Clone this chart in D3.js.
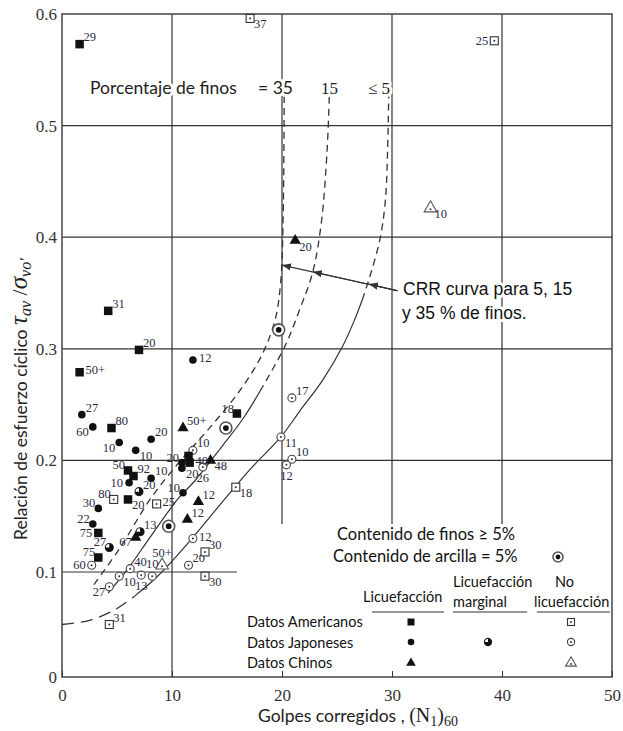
<!DOCTYPE html>
<html><head><meta charset="utf-8">
<script src="https://cdn.jsdelivr.net/npm/d3@7"></script>
<style>body{margin:0;background:#fff}svg{display:block}</style>
</head><body><svg id="c" width="623" height="731"></svg>
<script>
// ---------- DATA ----------
const xTicks = [0, 10, 20, 30, 40, 50];
const yTicks = [0, 0.1, 0.2, 0.3, 0.4, 0.5, 0.6];
const yTickLabels = ["0", "0.1", "0.2", "0.3", "0.4", "0.5", "0.6"];

// [N1_60, CSR, label, label placement]
const americanLiq = [
  [1.6,0.573,"29","ne"],[4.2,0.334,"31","ne"],[7.0,0.299,"20","ne"],[1.6,0.279,"50+","e"],
  [4.5,0.229,"80","ne"],[6.0,0.191,"50","nw"],[6.5,0.186,"92","ne"],[6.0,0.165,"20","se"],
  [3.3,0.135,"75","w"],[3.3,0.113,"75","nw"],[11.5,0.204,"",""],[11.6,0.198,"40","e"],
  [15.9,0.242,"18","nw"]
];
const americanNonLiq = [
  [17.1,0.596,"37","se"],[39.3,0.576,"25","w"],[4.7,0.165,"80","nw"],[8.6,0.161,"25","e"],
  [15.8,0.176,"18","se"],[13.0,0.118,"30","ne"],[13.0,0.096,"30","se"],[4.3,0.050,"31","ne"]
];
const japaneseLiq = [
  [1.8,0.241,"27","ne"],[2.8,0.230,"60","sw"],[5.2,0.216,"10","sw"],[6.7,0.209,"10","se"],
  [8.1,0.219,"20","ne"],[11.9,0.290,"12","e"],[8.1,0.184,"10","ne"],[6.1,0.180,"10","w"],
  [3.3,0.157,"30","nw"],[2.8,0.143,"22","nw"],[10.9,0.198,"20","nw"],[10.9,0.193,"20","se"],
  [11.0,0.171,"10","nw"]
];
const japaneseMarginal = [
  [7.0,0.172,"20","ne"],[4.3,0.122,"27","nw"],[7.1,0.136,"13","ne"]
];
const japaneseNonLiq = [
  [11.9,0.209,"10","ne"],[12.8,0.194,"26","s"],[20.9,0.256,"17","ne"],[19.9,0.221,"11","se"],
  [20.9,0.201,"10","ne"],[20.4,0.196,"12","s"],[11.9,0.130,"12","e"],[11.5,0.106,"20","ne"],
  [2.7,0.106,"60","w"],[6.2,0.103,"40","ne"],[5.2,0.096,"10","se"],[7.2,0.097,"13","s"],
  [8.2,0.096,"10","n"],[4.3,0.086,"27","sw"]
];
const chineseLiq = [
  [11.0,0.229,"50+","ne"],[13.5,0.200,"48","se"],[12.4,0.163,"12","ne"],[11.4,0.147,"12","ne"],
  [6.7,0.131,"67","sw"],[21.2,0.397,"20","se"]
];
const chineseNonLiq = [
  [33.5,0.426,"10","se"],[9.1,0.106,"50+","n"]
];
const clayPoints = [[14.9,0.229],[9.7,0.141],[19.7,0.317]];

// CRR curves [N1_60, CSR]
const curve35 = [[2.9,0.088],[5.3,0.122],[8.0,0.165],[10.7,0.199],[13.5,0.230],[16.2,0.263],
  [18.2,0.295],[19.4,0.327],[19.9,0.362],[20.1,0.416],[20.2,0.526]];
const curve15 = [[4.2,0.080],[6.0,0.103],[8.0,0.131],[10.5,0.165],[12.1,0.182],[14.5,0.212],
  [16.5,0.238],[18.0,0.262],[20.3,0.303],[21.6,0.335],[22.8,0.369],[23.6,0.415],[24.1,0.478],[24.3,0.526]];
const curve5 = [[0,0.050],[2.5,0.054],[4.8,0.064],[6.6,0.077],[8.5,0.094],[10.4,0.114],[12.5,0.138],
  [14.6,0.163],[17.1,0.192],[19.9,0.221],[21.6,0.244],[23.7,0.272],[25.5,0.302],[26.6,0.326],
  [27.3,0.344],[27.9,0.362],[28.9,0.398],[29.4,0.433],[29.6,0.478],[29.7,0.526]];
const arrowTargets = [[20.0,0.375],[22.8,0.369],[27.9,0.358]];
const arrowOrigin = [30.5,0.352];

// ---------- CHART ----------
const svg = d3.select("#c");
const x = d3.scaleLinear().domain([0, 50]).range([62, 612]);
const y = d3.scaleLinear().domain([0, 0.1, 0.6]).range([677, 572, 14]);
const sans = "Lato, 'Open Sans', sans-serif";
const serif = "'Liberation Serif', 'DejaVu Serif', serif";

// grid
const grid = svg.append("g").attr("stroke", "#333").attr("stroke-width", 1.2);
[0.2, 0.3, 0.4, 0.5].forEach(v => grid.append("line").attr("x1", x(0)).attr("x2", x(50)).attr("y1", y(v)).attr("y2", y(v)));
grid.append("line").attr("x1", x(0)).attr("x2", x(15.9)).attr("y1", y(0.1)).attr("y2", y(0.1));
grid.append("line").attr("x1", x(10)).attr("x2", x(10)).attr("y1", y(0.6)).attr("y2", y(0));
[20, 30, 40].forEach(v => grid.append("line").attr("x1", x(v)).attr("x2", x(v)).attr("y1", y(0.6)).attr("y2", y(0.143)));
// frame
svg.append("rect").attr("x", x(0)).attr("y", y(0.6)).attr("width", x(50) - x(0)).attr("height", y(0) - y(0.6))
  .attr("fill", "none").attr("stroke", "#444").attr("stroke-width", 1.5);

// axes
const ax = svg.append("g").attr("transform", `translate(0,${y(0)})`)
  .call(d3.axisBottom(x).tickValues(xTicks).tickSize(-6).tickPadding(12).tickFormat(d3.format("d")));
ax.select(".domain").remove();
ax.selectAll("line").attr("stroke", "#333");
ax.selectAll("text").attr("font-family", serif).attr("font-size", 17).attr("fill", "#333");
const ay = svg.append("g").attr("transform", `translate(${x(0)},0)`)
  .call(d3.axisLeft(y).tickValues(yTicks).tickSize(0).tickPadding(5).tickFormat((d, i) => yTickLabels[i]));
ay.select(".domain").remove();
ay.selectAll("text").attr("font-family", serif).attr("font-size", 17).attr("fill", "#333");

// curves
const line = d3.line().x(d => x(d[0])).y(d => y(d[1])).curve(d3.curveCatmullRom.alpha(0.5));
function part(arr, f) { return arr.filter(f); }
const cg = svg.append("g").attr("fill", "none").attr("stroke", "#333").attr("stroke-width", 1.3);
cg.append("path").attr("d", line(curve35)).attr("stroke-dasharray", "7,5");
cg.append("path").attr("d", line(part(curve15, d => d[1] <= 0.263))).attr("stroke-width", 1.2);
cg.append("path").attr("d", line(part(curve15, d => d[1] >= 0.262))).attr("stroke-dasharray", "7,5");
cg.append("path").attr("d", line(part(curve5, d => d[0] <= 6.6))).attr("stroke-dasharray", "12,7");
cg.append("path").attr("d", line(part(curve5, d => d[0] >= 6.6 && d[1] <= 0.345))).attr("stroke-width", 1.2);
cg.append("path").attr("d", line(part(curve5, d => d[1] >= 0.344))).attr("stroke-dasharray", "7,5");

// arrows
svg.append("defs").append("marker").attr("id", "ah").attr("viewBox", "0 0 10 10").attr("refX", 10).attr("refY", 5)
  .attr("markerWidth", 9).attr("markerHeight", 9).attr("orient", "auto-start-reverse").attr("markerUnits", "userSpaceOnUse")
  .append("path").attr("d", "M0,1 L10,5 L0,9 Z").attr("fill", "#333");
arrowTargets.forEach(t => svg.append("line").attr("x1", x(arrowOrigin[0])).attr("y1", y(arrowOrigin[1]))
  .attr("x2", x(t[0])).attr("y2", y(t[1])).attr("stroke", "#333").attr("stroke-width", 1.1).attr("marker-end", "url(#ah)"));

// annotation texts (with white halo)
function halo(t) { return t.attr("stroke", "#fff").attr("stroke-width", 6).attr("paint-order", "stroke").attr("stroke-linejoin", "round"); }
halo(svg.append("text").attr("x", 90).attr("y", 94).attr("font-family", sans).attr("font-size", 17.5).attr("fill", "#222").text("Porcentaje de finos"));
halo(svg.append("text").attr("x", 258).attr("y", 94).attr("font-family", sans).attr("font-size", 17.5).attr("fill", "#222").text("= 35"));
halo(svg.append("text").attr("x", 321).attr("y", 94).attr("font-family", serif).attr("font-size", 17).attr("fill", "#222").text("15"));
halo(svg.append("text").attr("x", 368).attr("y", 94).attr("font-family", serif).attr("font-size", 17).attr("fill", "#222").text("≤ 5"));
halo(svg.append("text").attr("x", 403).attr("y", 295).attr("font-family", "'Liberation Sans', Arial, sans-serif").attr("font-size", 17.5).attr("fill", "#111").text("CRR curva para 5, 15"));
halo(svg.append("text").attr("x", 402).attr("y", 319).attr("font-family", "'Liberation Sans', Arial, sans-serif").attr("font-size", 17.5).attr("fill", "#111").text("y 35 % de finos."));

// symbols
function sqFilled(g, cx, cy, s) { g.append("rect").attr("x", cx - s / 2).attr("y", cy - s / 2).attr("width", s).attr("height", s).attr("fill", "#111"); }
function sqDot(g, cx, cy, s) {
  g.append("rect").attr("x", cx - s / 2).attr("y", cy - s / 2).attr("width", s).attr("height", s).attr("fill", "#fff").attr("stroke", "#333").attr("stroke-width", 1.1);
  g.append("circle").attr("cx", cx).attr("cy", cy).attr("r", 1).attr("fill", "#333");
}
function ciFilled(g, cx, cy, r) { g.append("circle").attr("cx", cx).attr("cy", cy).attr("r", r).attr("fill", "#111"); }
function ciDot(g, cx, cy, r) {
  g.append("circle").attr("cx", cx).attr("cy", cy).attr("r", r).attr("fill", "#fff").attr("stroke", "#444").attr("stroke-width", 1.1);
  g.append("circle").attr("cx", cx).attr("cy", cy).attr("r", 1).attr("fill", "#333");
}
function marginal(g, cx, cy, r) {
  g.append("circle").attr("cx", cx).attr("cy", cy).attr("r", r).attr("fill", "#fff").attr("stroke", "#222").attr("stroke-width", 1.1);
  const arc = d3.arc().innerRadius(0).outerRadius(r)({ startAngle: 0, endAngle: 1.5 * Math.PI });
  g.append("path").attr("d", arc).attr("transform", `translate(${cx},${cy})`).attr("fill", "#111");
}
const tri = (size) => d3.symbol().type(d3.symbolTriangle).size(size)();
function triFilled(g, cx, cy, s) { g.append("path").attr("d", tri(s)).attr("transform", `translate(${cx},${cy})`).attr("fill", "#111"); }
function triDot(g, cx, cy, s) {
  g.append("path").attr("d", tri(s)).attr("transform", `translate(${cx},${cy})`).attr("fill", "#fff").attr("stroke", "#555").attr("stroke-width", 1.1);
  g.append("circle").attr("cx", cx).attr("cy", cy + 1).attr("r", 1).attr("fill", "#333");
}
function clay(g, cx, cy, r) {
  g.append("circle").attr("cx", cx).attr("cy", cy).attr("r", r).attr("fill", "#fff").attr("stroke", "#555").attr("stroke-width", 1.6);
  g.append("circle").attr("cx", cx).attr("cy", cy).attr("r", r * 0.48).attr("fill", "#111");
}

const pg = svg.append("g");
const place = { ne: [4, -3, "start"], e: [6, 2, "start"], se: [4, 10, "start"], nw: [-3, -1, "end"], w: [-6, 4, "end"],
  sw: [-4, 9, "end"], n: [0, -8, "middle"], s: [0, 15, "middle"] };
function plot(arr, fn, size) {
  arr.forEach(d => {
    const cx = x(d[0]), cy = y(d[1]);
    fn(pg, cx, cy, size);
    if (d[2]) {
      const p = place[d[3]];
      pg.append("text").attr("x", cx + p[0]).attr("y", cy + p[1]).attr("text-anchor", p[2])
        .attr("font-family", serif).attr("font-size", 12.5).attr("fill", "#2a2a44").text(d[2]);
    }
  });
}
plot(japaneseNonLiq, ciDot, 4);
plot(americanNonLiq, sqDot, 8);
plot(chineseNonLiq, triDot, 70);
plot(japaneseLiq, ciFilled, 3.8);
plot(japaneseMarginal, marginal, 4);
plot(chineseLiq, triFilled, 55);
plot(americanLiq, sqFilled, 8.5);
clayPoints.forEach(d => clay(pg, x(d[0]), y(d[1]), 6));

// legend
const lg = svg.append("g");
halo(lg.append("text").attr("x", 337).attr("y", 540).attr("font-family", sans).attr("font-size", 16.5).attr("fill", "#111").text("Contenido de finos ≥ 5%"));
halo(lg.append("text").attr("x", 333).attr("y", 562).attr("font-family", sans).attr("font-size", 16.5).attr("fill", "#111").text("Contenido de arcilla = 5%"));
clay(lg, 558, 557, 5);
const lf = { "font-family": sans, "font-size": 14.5, "fill": "#111" };
function lt(tx, ty, s) { const t = lg.append("text").attr("x", tx).attr("y", ty).text(s); Object.entries(lf).forEach(([k, v]) => t.attr(k, v)); return t; }
lt(363, 602, "Licuefacción");
lt(453, 587, "Licuefacción");
lt(453, 607, "marginal");
lt(555, 587, "No");
lt(534, 607, "licuefacción");
[[372, 444], [453, 527], [537, 610]].forEach(s => lg.append("line").attr("x1", s[0]).attr("x2", s[1]).attr("y1", 612).attr("y2", 612).attr("stroke", "#333").attr("stroke-width", 1.2));
lt(247, 627, "Datos Americanos");
lt(247, 648, "Datos Japoneses");
lt(247, 668, "Datos Chinos");
sqFilled(lg, 411, 622, 7); sqDot(lg, 571, 622, 7);
ciFilled(lg, 411, 642, 3.3); marginal(lg, 488, 642, 3.6); ciDot(lg, 571, 642, 3.6);
triFilled(lg, 411, 663, 40); triDot(lg, 571, 663, 50);

// axis titles
const xt = svg.append("text").attr("x", 258).attr("y", 722).attr("fill", "#222");
xt.append("tspan").attr("font-family", sans).attr("font-size", 17.5).text("Golpes corregidos , ");
xt.append("tspan").attr("font-family", serif).attr("font-size", 20).text("(N");
xt.append("tspan").attr("font-family", serif).attr("font-size", 14).attr("dy", 4).text("1");
xt.append("tspan").attr("font-family", serif).attr("font-size", 20).attr("dy", -4).text(")");
xt.append("tspan").attr("font-family", serif).attr("font-size", 14).attr("dy", 4).text("60");

const yt = svg.append("text").attr("transform", "translate(27,540) rotate(-90)").attr("text-anchor", "start").attr("fill", "#222");
yt.append("tspan").attr("font-family", sans).attr("font-size", 17.5).text("Relación de esfuerzo cíclico  ");
yt.append("tspan").attr("font-family", serif).attr("font-style", "italic").attr("font-size", 25).text("τ");
yt.append("tspan").attr("font-family", serif).attr("font-style", "italic").attr("font-size", 16).attr("dy", 4).text("av");
yt.append("tspan").attr("font-family", serif).attr("font-size", 22).attr("dy", -4).text(" /");
yt.append("tspan").attr("font-family", serif).attr("font-style", "italic").attr("font-size", 25).text("σ");
yt.append("tspan").attr("font-family", serif).attr("font-style", "italic").attr("font-size", 16).attr("dy", 4).text("vo'");
</script></body></html>
